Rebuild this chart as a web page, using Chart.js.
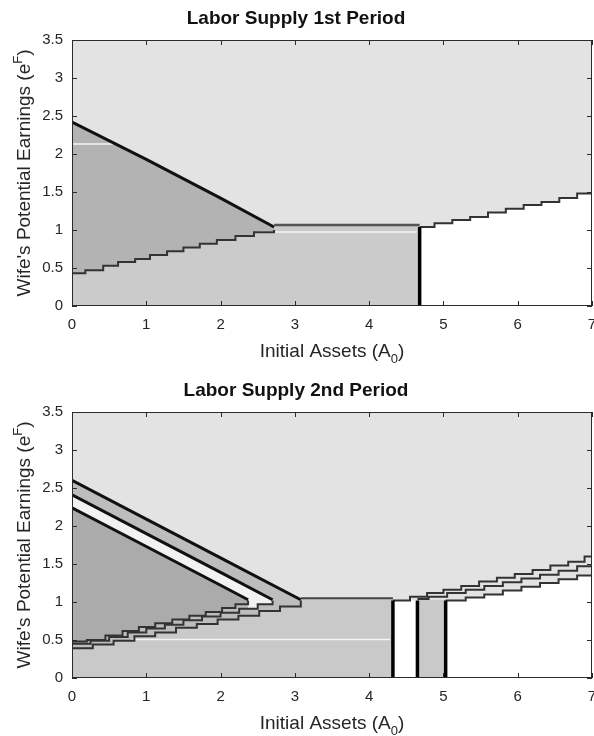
<!DOCTYPE html>
<html>
<head>
<meta charset="utf-8">
<script src="https://cdn.jsdelivr.net/npm/chart.js@4/dist/chart.umd.min.js"></script>
<style>
  html, body { margin: 0; padding: 0; background: #fff; }
  .panel { position: absolute; left: 0; width: 594px; }
  #p1 { top: 0; height: 368px; }
  #p2 { top: 372px; height: 364px; }
</style>
</head>
<body>
<div class="panel" id="p1"><canvas id="chart1"></canvas></div>
<div class="panel" id="p2"><canvas id="chart2"></canvas></div>
<script>
// axis ticks shared by both panels
const xTicks = [0, 1, 2, 3, 4, 5, 6, 7];
const yTicks = [0, 0.5, 1, 1.5, 2, 2.5, 3, 3.5];

// ---- 1st period boundaries ----
const p1UpperX = [0, 1, 2, 2.72];
const p1UpperY = [2.42, 1.93, 1.42, 1.04];
const p1LowerX = [0, 0.18, 0.42, 0.62, 0.85, 1.05, 1.28, 1.5, 1.72, 1.95, 2.2, 2.45, 2.72];
const p1LowerY = [0.43, 0.47, 0.53, 0.58, 0.62, 0.67, 0.72, 0.77, 0.82, 0.87, 0.92, 0.97, 1.0];
const p1BlockX = [0, 4.68];
const p1BlockY = [1.06, 1.06];
const p1RidgeX = [2.72, 4.68];
const p1RidgeY = [1.065, 1.065];
const p1RightX = [4.68, 4.88, 5.12, 5.36, 5.6, 5.84, 6.08, 6.32, 6.56, 6.8, 7];
const p1RightY = [1.04, 1.09, 1.13, 1.17, 1.23, 1.28, 1.33, 1.37, 1.42, 1.48, 1.49];
const p1CutX = [4.68, 4.68];
const p1CutY = [0, 1.04];
const p1GlintAX = [2.5, 4.64];
const p1GlintAY = [0.975, 0.975];
const p1GlintBX = [0, 0.55];
const p1GlintBY = [2.13, 2.13];

// ---- 2nd period boundaries ----
const p2DescTopX = [0, 1, 2, 3.08];
const p2DescTopY = [2.6, 2.09, 1.58, 1.03];
const p2DescMidX = [0, 1, 2, 2.7];
const p2DescMidY = [2.41, 1.9, 1.39, 1.03];
const p2DescLowX = [0, 1, 2, 2.37];
const p2DescLowY = [2.24, 1.73, 1.22, 1.03];
const p2RiseAX = [0, 0.2, 0.45, 0.68, 0.9, 1.12, 1.35, 1.58, 1.8, 2.02, 2.2, 2.37];
const p2RiseAY = [0.48, 0.5, 0.56, 0.62, 0.67, 0.72, 0.77, 0.82, 0.87, 0.92, 0.97, 1.02];
const p2RiseBX = [0, 0.25, 0.5, 0.75, 1, 1.25, 1.5, 1.75, 2, 2.25, 2.5, 2.7];
const p2RiseBY = [0.45, 0.49, 0.54, 0.6, 0.65, 0.7, 0.76, 0.81, 0.86, 0.91, 0.97, 1.02];
const p2RiseCX = [0, 0.28, 0.56, 0.84, 1.12, 1.4, 1.68, 1.96, 2.24, 2.52, 2.8, 3.08];
const p2RiseCY = [0.39, 0.44, 0.49, 0.55, 0.6, 0.66, 0.71, 0.77, 0.82, 0.88, 0.94, 1.02];
const p2BlockX = [0, 4.32];
const p2BlockY = [1.05, 1.05];
const p2RidgeX = [3.08, 4.32];
const p2RidgeY = [1.05, 1.05];
const p2GapX = [4.32, 4.65];
const p2GapY = [1.02, 1.02];
const p2MidBlockX = [4.65, 5.03];
const p2MidBlockY = [1.03, 1.03];
const p2RightUpX = [4.32, 4.55, 4.78, 5.0, 5.24, 5.48, 5.72, 5.96, 6.2, 6.44, 6.68, 6.9, 7];
const p2RightUpY = [1.02, 1.07, 1.12, 1.16, 1.21, 1.27, 1.32, 1.37, 1.42, 1.48, 1.53, 1.6, 1.62];
const p2RightMidX = [4.65, 4.8, 5.05, 5.3, 5.55, 5.8, 6.05, 6.3, 6.55, 6.8, 7];
const p2RightMidY = [1.04, 1.07, 1.12, 1.16, 1.21, 1.26, 1.31, 1.36, 1.41, 1.47, 1.5];
const p2RightLowX = [5.03, 5.3, 5.55, 5.8, 6.05, 6.3, 6.55, 6.8, 7];
const p2RightLowY = [1.02, 1.06, 1.1, 1.15, 1.2, 1.25, 1.3, 1.35, 1.38];
const p2CutsX = [4.32, 4.65, 5.03];
const p2CutTop = 1.02;
const p2GlintX = [0.8, 4.28];
const p2GlintY = [0.505, 0.505];

const FONT = '"Liberation Sans", Arial, Helvetica, sans-serif';
const INK = '#262626';

const pts = (xs, ys) => xs.map((x, i) => ({ x, y: ys[i] }));
const series = (xs, ys, opts) => ({
  data: pts(xs, ys),
  pointRadius: 0,
  borderWidth: 0,
  fill: false,
  tension: 0,
  ...opts,
});

// area background, box, inward ticks and axis titles with sub/superscripts
const framePlugin = {
  id: 'frame',
  beforeDraw(chart) {
    const { ctx, chartArea: a } = chart;
    ctx.save();
    ctx.fillStyle = '#e3e3e3';
    ctx.fillRect(a.left, a.top, a.right - a.left, a.bottom - a.top);
    ctx.restore();
  },
  afterDraw(chart) {
    const { ctx, chartArea: a, scales: { x, y } } = chart;
    ctx.save();
    ctx.strokeStyle = '#2b2b2b';
    ctx.lineWidth = 1;
    ctx.strokeRect(a.left + 0.5, a.top + 0.5, a.right - a.left - 1, a.bottom - a.top - 1);
    ctx.beginPath();
    xTicks.forEach((v) => {
      const px = Math.round(x.getPixelForValue(v)) + 0.5;
      ctx.moveTo(px, a.bottom); ctx.lineTo(px, a.bottom - 5);
      ctx.moveTo(px, a.top); ctx.lineTo(px, a.top + 5);
    });
    yTicks.forEach((v) => {
      const py = Math.round(y.getPixelForValue(v)) + 0.5;
      ctx.moveTo(a.left, py); ctx.lineTo(a.left + 5, py);
      ctx.moveTo(a.right, py); ctx.lineTo(a.right - 5, py);
    });
    ctx.stroke();

    ctx.fillStyle = INK;
    ctx.textBaseline = 'middle';
    ctx.textAlign = 'left';
    const big = '19px ' + FONT;
    const small = '13px ' + FONT;

    // x title: Initial Assets (A0)
    const xa = 'Initial Assets (A', xb = '0', xc = ')';
    ctx.font = big; const w1 = ctx.measureText(xa).width, w3 = ctx.measureText(xc).width;
    ctx.font = small; const w2 = ctx.measureText(xb).width;
    let sx = (a.left + a.right) / 2 - (w1 + w2 + w3) / 2;
    const ty = a.bottom + 46;
    ctx.font = big; ctx.fillText(xa, sx, ty);
    ctx.font = small; ctx.fillText(xb, sx + w1, ty + 7);
    ctx.font = big; ctx.fillText(xc, sx + w1 + w2, ty);

    // y title: Wife's Potential Earnings (eF)
    const ya = "Wife's Potential Earnings (e", yb = 'F', yc = ')';
    ctx.font = big; const v1 = ctx.measureText(ya).width, v3 = ctx.measureText(yc).width;
    ctx.font = small; const v2 = ctx.measureText(yb).width;
    ctx.translate(25, (a.top + a.bottom) / 2);
    ctx.rotate(-Math.PI / 2);
    const sy = -(v1 + v2 + v3) / 2;
    ctx.font = big; ctx.fillText(ya, sy, 0);
    ctx.font = small; ctx.fillText(yb, sy + v1, -7);
    ctx.font = big; ctx.fillText(yc, sy + v1 + v2, 0);
    ctx.restore();
  },
};

const makeOptions = (title, xAxisHeight) => ({
  responsive: true,
  maintainAspectRatio: false,
  animation: false,
  devicePixelRatio: 1,
  layout: { padding: { left: 0, right: 2, top: 0, bottom: 0 } },
  scales: {
    x: {
      type: 'linear',
      min: 0,
      max: 7,
      grid: { display: false, drawTicks: false },
      border: { display: false },
      ticks: { color: INK, font: { family: FONT, size: 15 }, padding: 10, maxRotation: 0,
        callback: (v) => String(v) },
      afterBuildTicks: (s) => { s.ticks = xTicks.map((v) => ({ value: v })); },
      afterFit: (s) => { s.height = xAxisHeight; s.paddingLeft = 0; s.paddingRight = 0; },
    },
    y: {
      type: 'linear',
      min: 0,
      max: 3.5,
      grid: { display: false, drawTicks: false },
      border: { display: false },
      ticks: { color: INK, font: { family: FONT, size: 15 }, padding: 9,
        callback: (v) => String(v) },
      afterBuildTicks: (s) => { s.ticks = yTicks.map((v) => ({ value: v })); },
      afterFit: (s) => { s.width = 72; s.paddingTop = 0; s.paddingBottom = 0; },
    },
  },
  plugins: {
    legend: { display: false },
    tooltip: { enabled: false },
    filler: { drawTime: 'beforeDatasetsDraw' },
    title: {
      display: true,
      text: title,
      color: '#111',
      font: { family: FONT, size: 19, weight: 'bold' },
      padding: { top: 7, bottom: 10.2 },
    },
  },
});

// ---- chart 1 ----
const LINE = '#333';
const d1 = [];
d1.push(series(p1BlockX, p1BlockY, { fill: 'origin', backgroundColor: '#cbcbcb', order: 10 }));            // 0
d1.push(series(p1RightX, p1RightY, { stepped: true, fill: 'origin', backgroundColor: '#ffffff',
  borderColor: LINE, borderWidth: 2, order: 4 }));                                                         // 1
d1.push(series(p1LowerX, p1LowerY, { stepped: true, borderColor: LINE, borderWidth: 2, order: 3 }));      // 2
d1.push(series(p1UpperX, p1UpperY, { fill: { target: 2 }, backgroundColor: '#b3b3b3',
  borderColor: '#111', borderWidth: 3, order: 5 }));                                                       // 3
d1.push(series(p1GlintAX, p1GlintAY, { borderColor: '#f4f4f4', borderWidth: 1.5, order: 6 }));
d1.push(series(p1GlintBX, p1GlintBY, { borderColor: '#f4f4f4', borderWidth: 1.5, order: 6 }));
d1.push(series(p1RidgeX, p1RidgeY, { borderColor: '#555', borderWidth: 2.5, order: 2 }));
d1.push(series(p1CutX, p1CutY, { borderColor: '#000', borderWidth: 3.5, order: 1 }));

new Chart(document.getElementById('chart1'), {
  type: 'line',
  data: { datasets: d1 },
  options: makeOptions('Labor Supply 1st Period', 62),
  plugins: [framePlugin],
});

// ---- chart 2 ----
const d2 = [];
d2.push(series(p2BlockX, p2BlockY, { fill: 'origin', backgroundColor: '#c9c9c9', order: 20 }));           // 0
d2.push(series(p2GapX, p2GapY, { fill: 'origin', backgroundColor: '#ffffff', order: 20 }));               // 1
d2.push(series(p2MidBlockX, p2MidBlockY, { fill: 'origin', backgroundColor: '#c9c9c9', order: 20 }));     // 2
d2.push(series(p2RightLowX, p2RightLowY, { stepped: true, fill: 'origin', backgroundColor: '#ffffff',
  borderColor: LINE, borderWidth: 2, order: 20 }));                                                        // 3
d2.push(series(p2RiseCX, p2RiseCY, { stepped: true, borderColor: LINE, borderWidth: 2, order: 3 }));      // 4
d2.push(series(p2RiseBX, p2RiseBY, { stepped: true, borderColor: LINE, borderWidth: 2, order: 3 }));      // 5
d2.push(series(p2RiseAX, p2RiseAY, { stepped: true, fill: { target: 5 }, backgroundColor: '#bdbdbd',
  borderColor: LINE, borderWidth: 2, order: 16 }));                                                        // 6
d2.push(series(p2DescTopX, p2DescTopY, { fill: { target: 4 }, backgroundColor: '#bdbdbd',
  borderColor: '#111', borderWidth: 3, order: 19 }));                                                      // 7
d2.push(series(p2DescMidX, p2DescMidY, { fill: { target: 5 }, backgroundColor: '#f2f2f2',
  borderColor: '#111', borderWidth: 3, order: 18 }));                                                      // 8
d2.push(series(p2DescLowX, p2DescLowY, { fill: { target: 6 }, backgroundColor: '#ababab',
  borderColor: '#111', borderWidth: 3, order: 15 }));                                                      // 9
d2.push(series(p2RightMidX, p2RightMidY, { stepped: true, borderColor: LINE, borderWidth: 2, order: 3 }));
d2.push(series(p2RightUpX, p2RightUpY, { stepped: true, borderColor: LINE, borderWidth: 2, order: 3 }));
d2.push(series(p2RidgeX, p2RidgeY, { borderColor: '#444', borderWidth: 2, order: 2 }));
d2.push(series(p2GlintX, p2GlintY, { borderColor: '#f4f4f4', borderWidth: 1.5, order: 6 }));
p2CutsX.forEach((cx) => {
  d2.push(series([cx, cx], [0, p2CutTop], { borderColor: '#000', borderWidth: 3.5, order: 1 }));
});

new Chart(document.getElementById('chart2'), {
  type: 'line',
  data: { datasets: d2 },
  options: makeOptions('Labor Supply 2nd Period', 58),
  plugins: [framePlugin],
});
</script>
</body>
</html>
